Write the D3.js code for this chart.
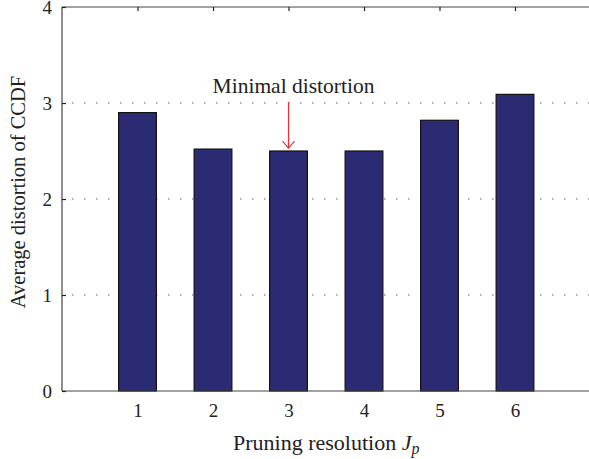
<!DOCTYPE html>
<html><head><meta charset="utf-8">
<script src="https://cdn.jsdelivr.net/npm/d3@7"></script>
<style>body{margin:0;background:#fff}svg{display:block}text{font-family:"Liberation Serif","DejaVu Serif",serif;fill:#222}</style>
</head><body><svg id="c" width="589" height="459"></svg>
<script>
const categories = [1, 2, 3, 4, 5, 6];
const values = [2.90, 2.52, 2.50, 2.50, 2.82, 3.09];
const yTicks = [0, 1, 2, 3, 4];
const gridTicks = [1, 2, 3];
const annotationText = "Minimal distortion";
const annotationCategory = 3;
const annotationFrom = 3.0;
const annotationTo = 2.53;
const xLabel = "Pruning resolution ";
const yLabel = "Average distortion of CCDF";

const svg = d3.select("#c");
const x = d3.scaleLinear().domain([0, 7]).range([62, 590.5]);
const y = d3.scaleLinear().domain([0, 4]).range([391, 7]);
const barW = x(0.5) - x(0);

// grid
svg.append("g").selectAll("line").data(gridTicks).join("line")
  .attr("x1", x(0)).attr("x2", x(7))
  .attr("y1", d => y(d)).attr("y2", d => y(d))
  .attr("stroke", "#999").attr("stroke-width", 1.6)
  .attr("stroke-dasharray", "1.6,10.4").attr("stroke-dashoffset", -10);

// bars
svg.append("g").selectAll("rect").data(categories).join("rect")
  .attr("x", (d) => x(d) - barW / 2)
  .attr("width", barW)
  .attr("y", (d, i) => y(values[i]))
  .attr("height", (d, i) => y(0) - y(values[i]))
  .attr("fill", "#2b2b73").attr("stroke", "#111").attr("stroke-width", 1.2);

// axes box
const frame = svg.append("g").attr("stroke", "#444").attr("stroke-width", 1.2);
frame.append("line").attr("x1", x(0)).attr("x2", x(7)).attr("y1", y(0)).attr("y2", y(0));
frame.append("line").attr("x1", x(0)).attr("x2", x(7)).attr("y1", y(4)).attr("y2", y(4));
frame.append("line").attr("x1", x(0)).attr("x2", x(0)).attr("y1", y(0)).attr("y2", y(4));
frame.append("line").attr("x1", x(7)).attr("x2", x(7)).attr("y1", y(0)).attr("y2", y(4));

// y axis
const yAxis = d3.axisLeft(y).tickValues(yTicks).tickSize(-4).tickPadding(10).tickFormat(d3.format("d"));
const gy = svg.append("g").attr("transform", `translate(${x(0)},0)`).call(yAxis);
gy.select(".domain").remove();
gy.selectAll("line").attr("stroke", "#222").attr("stroke-width", 1.2);
gy.selectAll("text").attr("font-size", 19).attr("font-family", "Liberation Serif").attr("fill", "#333");

// x axis bottom
const xAxis = d3.axisBottom(x).tickValues(categories).tickSize(-4).tickPadding(13).tickFormat(d3.format("d"));
const gx = svg.append("g").attr("transform", `translate(0,${y(0)})`).call(xAxis);
gx.select(".domain").remove();
gx.selectAll("line").attr("stroke", "#222").attr("stroke-width", 1.2);
gx.selectAll("text").attr("font-size", 19).attr("font-family", "Liberation Serif").attr("fill", "#333");
gx.lower();

// top ticks
const gt = svg.append("g").attr("transform", `translate(0,${y(4)})`).call(d3.axisTop(x).tickValues(categories).tickSize(-4).tickFormat(""));
gt.select(".domain").remove();
gt.selectAll("line").attr("stroke", "#222").attr("stroke-width", 1.2);

// annotation
svg.append("text").attr("x", x(annotationCategory) + 5).attr("y", 93)
  .attr("text-anchor", "middle").attr("font-size", 21.5).attr("fill", "#333").text(annotationText);
const ax = x(annotationCategory);
svg.append("line").attr("x1", ax).attr("x2", ax).attr("y1", y(annotationFrom) - 1).attr("y2", y(annotationTo))
  .attr("stroke", "#e8303a").attr("stroke-width", 1.2);
svg.append("path")
  .attr("d", `M${ax - 6},${y(annotationTo) - 7} L${ax},${y(annotationTo)} L${ax + 6},${y(annotationTo) - 7}`)
  .attr("fill", "none").attr("stroke", "#e8303a").attr("stroke-width", 1.2);

// axis labels
const xl = svg.append("text").attr("x", (x(0) + x(7)) / 2).attr("y", 450)
  .attr("text-anchor", "middle").attr("font-size", 22).attr("fill", "#333");
xl.append("tspan").text(xLabel);
xl.append("tspan").attr("font-style", "italic").text("J");
xl.append("tspan").attr("font-style", "italic").attr("font-size", 16).attr("dy", 4).text("p");

svg.append("text").attr("transform", `translate(25,192) rotate(-90)`)
  .attr("text-anchor", "middle").attr("font-size", 20.5).attr("fill", "#333").text(yLabel);
</script></body></html>
